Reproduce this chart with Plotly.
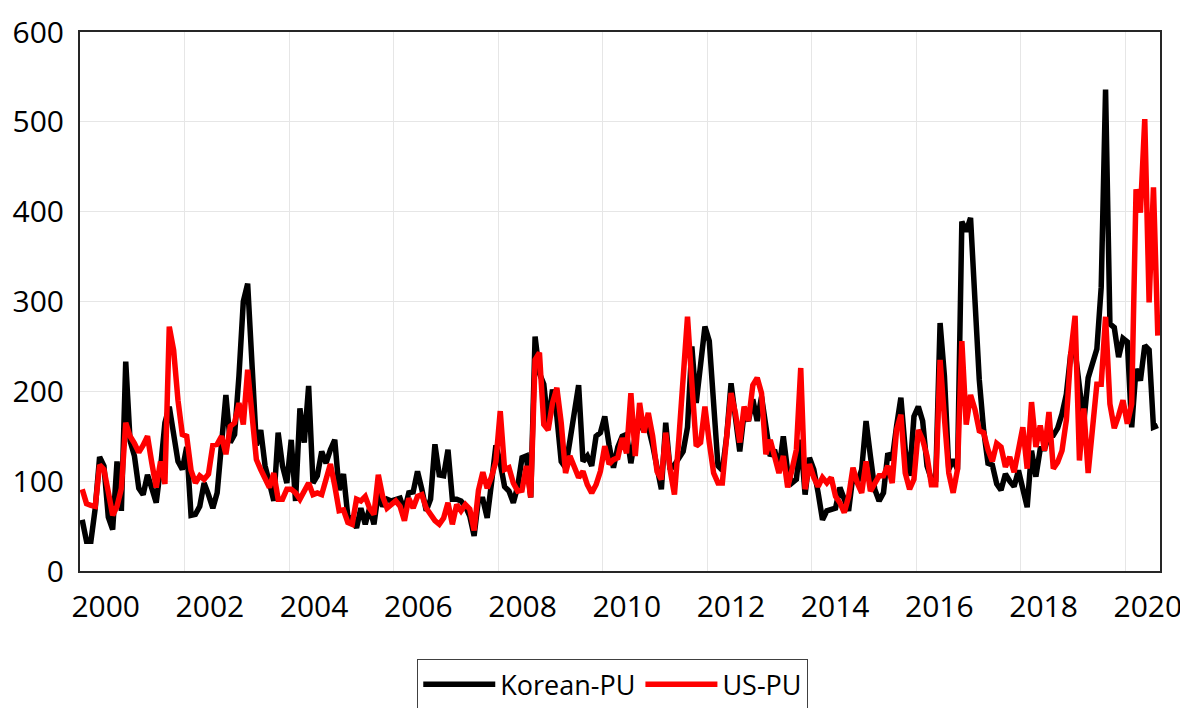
import plotly.graph_objects as go

# Monthly values, Jan 2000 - Aug 2020 (one row per year)
korean_pu = [
    57, 33, 33, 70, 127, 117, 60, 46, 122, 67, 233, 145,
    128, 92, 85, 107, 92, 76, 115, 165, 183, 155, 122, 113,
    138, 62, 63, 72, 98, 85, 70, 87, 135, 196, 143, 152,
    217, 300, 320, 235, 140, 157, 117, 98, 78, 154, 117, 98,
    146, 78, 181, 143, 206, 98, 106, 133, 120, 135, 146, 90,
    108, 61, 58, 48, 70, 52, 70, 52, 87, 72, 80, 78,
    80, 81, 67, 87, 88, 111, 91, 67, 80, 141, 107, 106,
    135, 80, 80, 78, 72, 61, 39, 80, 80, 59, 98, 140,
    120, 94, 89, 76, 94, 126, 128, 82, 261, 220, 208, 162,
    202, 172, 122, 115, 145, 180, 207, 122, 128, 117, 150, 154,
    172, 140, 115, 138, 150, 152, 120, 150, 162, 165, 160, 140,
    115, 91, 165, 113, 118, 125, 133, 160, 250, 187, 230, 272,
    256, 180, 117, 112, 150, 209, 170, 133, 176, 167, 191, 167,
    194, 160, 128, 135, 113, 150, 111, 98, 102, 146, 85, 126,
    113, 87, 57, 67, 68, 70, 93, 81, 67, 107, 98, 113,
    167, 128, 91, 78, 87, 131, 124, 161, 193, 135, 106, 172,
    183, 167, 117, 102, 102, 276, 217, 113, 124, 113, 389, 378,
    393, 302, 213, 157, 120, 118, 97, 90, 108, 100, 94, 112,
    94, 71, 134, 105, 136, 136, 151, 151, 159, 175, 197, 242,
    245, 200, 165, 215, 231, 247, 316, 536, 275, 271, 238, 259,
    255, 160, 225, 212, 251, 246, 160, 162,
]

us_pu = [
    91, 75, 73, 72, 118, 113, 88, 62, 72, 92, 165, 150,
    142, 132, 140, 150, 120, 93, 122, 97, 272, 246, 190, 152,
    150, 112, 98, 106, 102, 108, 140, 141, 150, 130, 161, 165,
    187, 163, 224, 175, 124, 113, 102, 93, 109, 80, 80, 91,
    91, 87, 80, 90, 98, 85, 87, 85, 105, 119, 95, 67,
    68, 54, 52, 80, 78, 83, 70, 63, 107, 83, 70, 75,
    78, 72, 56, 81, 70, 83, 85, 70, 63, 56, 52, 59,
    76, 52, 74, 67, 74, 69, 45, 90, 110, 92, 105, 122,
    178, 113, 115, 98, 89, 90, 117, 82, 235, 243, 163, 157,
    187, 204, 165, 109, 128, 115, 104, 111, 96, 87, 96, 111,
    139, 119, 124, 126, 148, 131, 198, 128, 187, 154, 176, 150,
    111, 102, 154, 113, 85, 146, 217, 283, 209, 139, 143, 183,
    143, 109, 98, 98, 150, 198, 176, 143, 183, 167, 207, 215,
    198, 130, 146, 128, 109, 128, 93, 113, 135, 226, 91, 119,
    104, 94, 104, 98, 104, 83, 76, 65, 83, 115, 98, 87,
    122, 89, 98, 106, 106, 117, 98, 157, 174, 109, 91, 102,
    157, 146, 128, 96, 96, 235, 170, 109, 87, 113, 256, 163,
    196, 180, 156, 154, 135, 122, 142, 138, 116, 127, 110, 136,
    160, 114, 188, 138, 162, 134, 177, 114, 121, 134, 168, 242,
    284, 123, 181, 109, 160, 208, 208, 283, 186, 159, 173, 190,
    164, 186, 425, 399, 503, 299, 427, 262,
]

year_labels = ["2000", "2002", "2004", "2006", "2008", "2010",
               "2012", "2014", "2016", "2018", "2020"]

month_index = list(range(len(korean_pu)))
label_pos = [5.4 + 23.93 * k for k in range(len(year_labels))]

fig = go.Figure()
fig.add_trace(go.Scatter(x=month_index, y=korean_pu, mode="lines", name="Korean-PU",
                         line=dict(color="#000000", width=5.5)))
fig.add_trace(go.Scatter(x=month_index, y=us_pu, mode="lines", name="US-PU",
                         line=dict(color="#ff0000", width=5.5)))

axis_font = dict(family="Open Sans", size=30, color="#000000")

# the page body adds an 8px offset, so the figure is 8px smaller than the window
fig.update_layout(
    width=1180, height=700,
    margin=dict(l=72, r=28, t=24, b=137, autoexpand=False),
    paper_bgcolor="white", plot_bgcolor="white",
    font=dict(family="Open Sans", color="#000000"),
    showlegend=True,
    legend=dict(orientation="h", x=0.312, xanchor="left", y=-0.163, yanchor="top",
                bordercolor="#404040", borderwidth=1.3,
                font=dict(family="Open Sans", size=27, color="#000000"),
                itemwidth=72),
    xaxis=dict(range=[-0.5, len(korean_pu) - 0.5], tickmode="array",
               tickvals=label_pos, ticktext=year_labels, showgrid=False,
               ticks="", tickfont=axis_font, ticklabelstandoff=8,
               showline=True, linecolor="#262626", linewidth=2, mirror=True,
               zeroline=False, automargin=False,
               minor=dict(tickmode="linear", tick0=-0.5, dtick=24, showgrid=True,
                          gridcolor="#e6e6e6", gridwidth=1, ticks="")),
    yaxis=dict(range=[0, 600], tickmode="linear", tick0=0, dtick=100,
               showgrid=True, gridcolor="#e6e6e6", gridwidth=1,
               ticks="", tickfont=axis_font, ticklabelstandoff=8,
               showline=True, linecolor="#262626", linewidth=2, mirror=True,
               zeroline=False, automargin=False),
)

fig.write_html("out.html")
